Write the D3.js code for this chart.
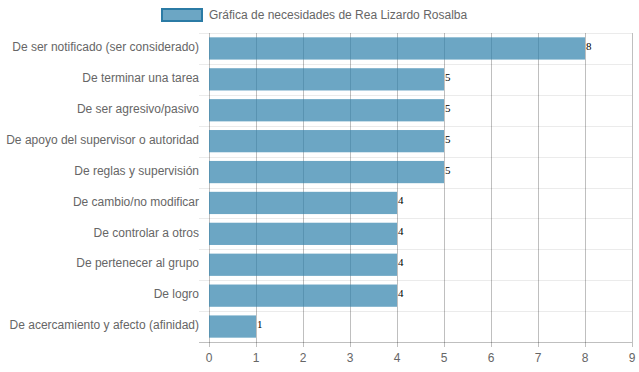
<!DOCTYPE html>
<html><head><meta charset="utf-8">
<script src="https://cdn.jsdelivr.net/npm/d3@7"></script>
<style>body{margin:0;background:#fff}svg{display:block}</style>
</head><body>
<script>
const categories = [
  "De ser notificado (ser considerado)",
  "De terminar una tarea",
  "De ser agresivo/pasivo",
  "De apoyo del supervisor o autoridad",
  "De reglas y supervisión",
  "De cambio/no modificar",
  "De controlar a otros",
  "De pertenecer al grupo",
  "De logro",
  "De acercamiento y afecto (afinidad)"
];
const values = [8, 5, 5, 5, 5, 4, 4, 4, 4, 1];
const xTicks = [0, 1, 2, 3, 4, 5, 6, 7, 8, 9];
const seriesName = "Gráfica de necesidades de Rea Lizardo Rosalba";

const W = 639, H = 372;
const m = {left: 209, right: 7, top: 33, bottom: 30};
const svg = d3.select("body").append("svg").attr("width", W).attr("height", H);
const font = "'Liberation Sans', Arial, Helvetica, sans-serif";

const x = d3.scaleLinear().domain([0, 9]).range([m.left, W - m.right]);
const y = d3.scaleBand().domain(categories).range([m.top, H - m.bottom]);
const barH = y.bandwidth() * 0.72;

// horizontal grid lines (between categories), with tick extension
const hLines = categories.map(c => y(c));
svg.append("g").selectAll("line").data(hLines).join("line")
  .attr("x1", m.left - 10).attr("x2", W - m.right)
  .attr("y1", d => Math.round(d) + 0.5).attr("y2", d => Math.round(d) + 0.5)
  .attr("stroke", "rgba(0,0,0,0.08)").attr("stroke-width", 1);

// vertical grid lines
svg.append("g").selectAll("line").data(xTicks).join("line")
  .attr("x1", d => Math.round(x(d)) + 0.5).attr("x2", d => Math.round(x(d)) + 0.5)
  .attr("y1", m.top).attr("y2", H - m.bottom + 5)
  .attr("stroke", "rgba(0,0,0,0.25)").attr("stroke-width", 1);

// bottom axis line
svg.append("line")
  .attr("x1", m.left - 10).attr("x2", W - m.right)
  .attr("y1", Math.round(y.range()[1]) + 0.5).attr("y2", Math.round(y.range()[1]) + 0.5)
  .attr("stroke", "rgba(0,0,0,0.25)");

// bars
svg.append("g").selectAll("rect").data(values).join("rect")
  .attr("x", x(0))
  .attr("y", (d, i) => y(categories[i]) + (y.bandwidth() - barH) / 2)
  .attr("width", d => x(d) - x(0))
  .attr("height", barH)
  .attr("fill", "rgba(45,128,171,0.70)");

// value labels
svg.append("g").selectAll("text").data(values).join("text")
  .attr("x", d => x(d) + 1)
  .attr("y", (d, i) => y(categories[i]) + y.bandwidth() / 2 - 1)
  .attr("dominant-baseline", "middle")
  .attr("font-family", "'Liberation Serif', 'Times New Roman', serif")
  .attr("font-size", 11).attr("fill", "#000")
  .text(d => d);

// y labels
svg.append("g").selectAll("text").data(categories).join("text")
  .attr("x", m.left - 10)
  .attr("y", d => y(d) + y.bandwidth() / 2 - 0.5)
  .attr("text-anchor", "end").attr("dominant-baseline", "middle")
  .attr("font-family", font).attr("font-size", 12).attr("fill", "#666")
  .text(d => d);

// x tick labels
svg.append("g").selectAll("text").data(xTicks).join("text")
  .attr("x", d => x(d))
  .attr("y", H - m.bottom + 17)
  .attr("text-anchor", "middle").attr("dominant-baseline", "middle")
  .attr("font-family", font).attr("font-size", 12).attr("fill", "#666")
  .text(d => d);

// legend
const lg = svg.append("g");
lg.append("rect").attr("x", 162).attr("y", 9).attr("width", 40).attr("height", 12)
  .attr("fill", "rgba(45,128,171,0.70)").attr("stroke", "#2b7ba5").attr("stroke-width", 2);
lg.append("text").attr("x", 209).attr("y", 15.5)
  .attr("dominant-baseline", "middle")
  .attr("font-family", font).attr("font-size", 12).attr("fill", "#666")
  .text(seriesName);
</script>
</body></html>
